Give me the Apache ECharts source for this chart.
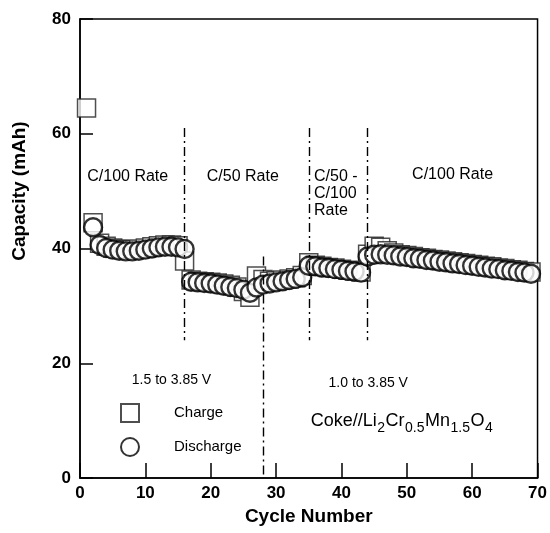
<!DOCTYPE html>
<html>
<head>
<meta charset="utf-8">
<script src="https://cdn.jsdelivr.net/npm/echarts@6/dist/echarts.min.js"></script>
<style>
  html, body { margin: 0; padding: 0; background: #fff; }
  #chart { width: 550px; height: 533px; }
</style>
</head>
<body>
<div id="chart"></div>
<script>
// Cycle numbers and capacities (mAh) of the Coke//Li2Cr0.5Mn1.5O4 cell
const cycles = [
  1, 2, 3, 4, 5, 6, 7, 8, 9, 10,
  11, 12, 13, 14, 15, 16, 17, 18, 19, 20,
  21, 22, 23, 24, 25, 26, 27, 28, 29, 30,
  31, 32, 33, 34, 35, 36, 37, 38, 39, 40,
  41, 42, 43, 44, 45, 46, 47, 48, 49, 50,
  51, 52, 53, 54, 55, 56, 57, 58, 59, 60,
  61, 62, 63, 64, 65, 66, 67, 68, 69
];

const chargeCap = [
  64.5, 44.5, 40.9, 40.4, 40.1, 39.9, 39.8, 39.8, 39.9, 40.1,
  40.3, 40.5, 40.6, 40.6, 40.5, 37.8, 34.5, 34.3, 34.2, 34.1,
  34.0, 33.8, 33.6, 33.3, 32.5, 31.5, 35.2, 34.6, 34.3, 34.4,
  34.5, 34.7, 34.9, 35.3, 37.5, 37.1, 36.9, 36.7, 36.6, 36.4,
  36.2, 36.1, 35.9, 39.0, 40.4, 40.2, 39.6, 39.2, 38.9, 38.8,
  38.6, 38.4, 38.3, 38.1, 38.0, 37.8, 37.7, 37.5, 37.4, 37.2,
  37.1, 36.9, 36.8, 36.6, 36.5, 36.3, 36.2, 36.0, 35.9
];

const dischargeCap = [
  null, 43.7, 40.6, 40.1, 39.8, 39.6, 39.5, 39.5, 39.6, 39.8,
  40.0, 40.2, 40.3, 40.3, 40.2, 39.9, 34.2, 34.1, 34.0, 33.9,
  33.7, 33.5, 33.3, 33.1, 32.8, 32.3, 33.2, 33.7, 33.9, 34.1,
  34.3, 34.5, 34.7, 35.0, 37.0, 36.9, 36.7, 36.6, 36.4, 36.3,
  36.1, 36.0, 35.8, 38.6, 38.9, 39.0, 38.9, 38.8, 38.6, 38.5,
  38.3, 38.2, 38.0, 37.9, 37.7, 37.6, 37.4, 37.3, 37.1, 37.0,
  36.8, 36.7, 36.5, 36.4, 36.2, 36.1, 35.9, 35.8, 35.6
];

// Cycles where the rate / voltage window changes: [cycle, from, to]
const rateBreaks = [
  [16, 61, 24],
  [28, 38.6, 0],
  [35, 61, 24],
  [44, 61, 24]
];

// Cell formula, split into normal and subscript pieces
const formulaParts = [
  ['Coke//Li', false], ['2', true], ['Cr', false], ['0.5', true],
  ['Mn', false], ['1.5', true], ['O', false], ['4', true]
];

const xTicks = [0, 10, 20, 30, 40, 50, 60, 70];
const yTicks = [0, 20, 40, 60, 80];

const FONT = "'Liberation Sans', Arial, Helvetica, sans-serif";

const pairs = (ys) => cycles.map((c, i) => [c, ys[i]]).filter(p => p[1] !== null);

const chart = echarts.init(document.getElementById('chart'), null, { renderer: 'canvas' });

const option = {
  backgroundColor: '#fff',
  animation: false,
  grid: {
    left: 80, right: 10, top: 19, bottom: 55,
    show: true, borderColor: '#000', borderWidth: 1.5, backgroundColor: 'transparent'
  },
  xAxis: {
    type: 'value',
    min: xTicks[0], max: xTicks[xTicks.length - 1], interval: 10,
    name: 'Cycle Number',
    nameLocation: 'middle',
    nameGap: 27,
    nameTextStyle: { fontFamily: FONT, fontSize: 19, fontWeight: 'bold', color: '#000', verticalAlign: 'top' },
    axisLine: { show: true, lineStyle: { color: '#000', width: 1.5 } },
    axisTick: { show: true, inside: true, length: 15, lineStyle: { color: '#000', width: 1.5 } },
    axisLabel: { fontFamily: FONT, fontSize: 17, fontWeight: 'bold', color: '#000', margin: 7 },
    splitLine: { show: false }
  },
  yAxis: {
    type: 'value',
    min: yTicks[0], max: yTicks[yTicks.length - 1], interval: 20,
    axisLine: { show: true, lineStyle: { color: '#000', width: 1.5 } },
    axisTick: { show: true, inside: true, length: 13, lineStyle: { color: '#000', width: 1.5 } },
    axisLabel: { fontFamily: FONT, fontSize: 17, fontWeight: 'bold', color: '#000', margin: 9 },
    splitLine: { show: false }
  },
  legend: {
    orient: 'vertical',
    left: 120, top: 403, padding: 0,
    itemWidth: 18, itemHeight: 18, itemGap: 14,
    textStyle: { fontFamily: FONT, fontSize: 15, color: '#000', padding: [0, 0, 0, 30] },
    data: ['Charge', 'Discharge']
  },
  series: [
    {
      name: 'Charge',
      type: 'scatter',
      symbol: 'rect',
      symbolSize: 18,
      itemStyle: { color: '#fff', borderColor: '#222', borderWidth: 1.5 },
      data: pairs(chargeCap),
      z: 2,
      markLine: {
        silent: true,
        symbol: ['none', 'none'],
        label: { show: false },
        lineStyle: { color: '#000', width: 1.4, type: [9, 4, 2, 4] },
        data: rateBreaks.map(b => [{ coord: [b[0], b[1]] }, { coord: [b[0], b[2]] }])
      }
    },
    {
      name: 'Discharge',
      type: 'scatter',
      symbol: 'circle',
      symbolSize: 18,
      itemStyle: { color: '#fff', borderColor: '#000', borderWidth: 2.4 },
      data: pairs(dischargeCap),
      z: 3
    }
  ]
};

chart.setOption(option);

// Text annotations placed in data coordinates
const at = (x, y) => chart.convertToPixel({ gridIndex: 0 }, [x, y]);
const note = (x, y, text, align, size) => {
  const p = at(x, y);
  return {
    type: 'text', x: p[0], y: p[1], z: 10,
    style: {
      text: text, fill: '#000',
      font: (size || 16) + 'px ' + FONT,
      textAlign: align || 'center', textVerticalAlign: 'middle'
    }
  };
};

// Formula: measure each piece so subscripts sit right after their element
const measureCtx = document.createElement('canvas').getContext('2d');
const MAIN_SIZE = 18, SUB_SIZE = 14;
const formulaStart = at(35.3, 8.9);   // left end, on the main baseline
const formulaText = [];
let penX = formulaStart[0];
formulaParts.forEach(([txt, sub]) => {
  const size = sub ? SUB_SIZE : MAIN_SIZE;
  const font = size + 'px ' + FONT;
  measureCtx.font = font;
  const w = measureCtx.measureText(txt).width;
  const baseline = formulaStart[1] + (sub ? 6 : 0);
  formulaText.push({
    type: 'text', x: penX, y: baseline - 0.35 * size, z: 10,
    style: { text: txt, fill: '#000', font: font, textAlign: 'left', textVerticalAlign: 'middle' }
  });
  penX += w + 0.5;
});

chart.setOption({
  graphic: [
    note(7.3, 52.6, 'C/100 Rate'),
    note(24.9, 52.6, 'C/50 Rate'),
    note(35.8, 52.6, 'C/50 -', 'left'),
    note(35.8, 49.6, 'C/100', 'left'),
    note(35.8, 46.6, 'Rate', 'left'),
    note(57, 52.9, 'C/100 Rate'),
    note(14, 17, '1.5 to 3.85 V', 'center', 14),
    note(44.1, 16.6, '1.0 to 3.85 V', 'center', 14),
    ...formulaText,
    {
      type: 'text', x: 20, y: 191, rotation: Math.PI / 2, z: 10,
      style: {
        text: 'Capacity (mAh)', fill: '#000',
        font: 'bold 19px ' + FONT,
        textAlign: 'center', textVerticalAlign: 'middle'
      }
    }
  ]
});
</script>
</body>
</html>
